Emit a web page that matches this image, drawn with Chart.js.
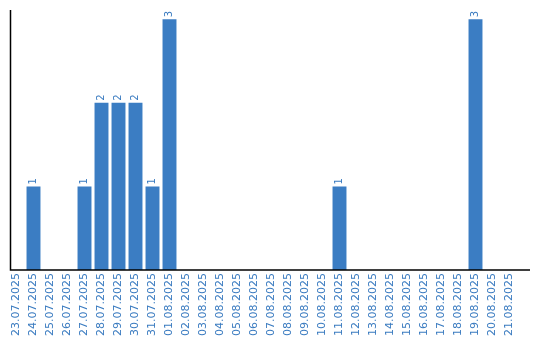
<!DOCTYPE html>
<html>
<head>
<meta charset="utf-8">
<script src="https://cdn.jsdelivr.net/npm/chart.js@4"></script>
<style>
  body { margin: 0; background: #fff; }
  #wrap { width: 540px; height: 340px; }
</style>
</head>
<body>
<div id="wrap"><canvas id="barChart" width="540" height="340"></canvas></div>
<script>
// dates on the x axis
const dates = [
  '23.07.2025', '24.07.2025', '25.07.2025', '26.07.2025', '27.07.2025',
  '28.07.2025', '29.07.2025', '30.07.2025', '31.07.2025', '01.08.2025',
  '02.08.2025', '03.08.2025', '04.08.2025', '05.08.2025', '06.08.2025',
  '07.08.2025', '08.08.2025', '09.08.2025', '10.08.2025', '11.08.2025',
  '12.08.2025', '13.08.2025', '14.08.2025', '15.08.2025', '16.08.2025',
  '17.08.2025', '18.08.2025', '19.08.2025', '20.08.2025', '21.08.2025'
];
// count per day
const counts = [
  0, 1, 0, 0, 1,
  2, 2, 2, 1, 3,
  0, 0, 0, 0, 0,
  0, 0, 0, 0, 1,
  0, 0, 0, 0, 0,
  0, 0, 3, 0, 0
];

const barColor = '#3b7dc3';
const textColor = '#3a7bc0';

// value over each bar, turned like the tick labels
const valueLabels = {
  id: 'valueLabels',
  afterDatasetsDraw(chart) {
    const ctx = chart.ctx;
    const meta = chart.getDatasetMeta(0);
    ctx.save();
    ctx.fillStyle = textColor;
    ctx.font = '10px "DejaVu Sans"';
    ctx.textAlign = 'left';
    ctx.textBaseline = 'middle';
    meta.data.forEach((bar, i) => {
      const v = counts[i];
      if (!v) return;
      ctx.save();
      ctx.translate(bar.x, bar.y - 2);
      ctx.rotate(-Math.PI / 2);
      ctx.fillText(String(v), 0, 0);
      ctx.restore();
    });
    ctx.restore();
  }
};

// plain black axis lines, the bottom one runs a bit past the bars
const axisLines = {
  id: 'axisLines',
  afterDraw(chart) {
    const a = chart.chartArea;
    const ctx = chart.ctx;
    ctx.save();
    ctx.strokeStyle = '#000';
    ctx.lineWidth = 1.5;
    ctx.beginPath();
    ctx.moveTo(a.left + 2.5, a.top);
    ctx.lineTo(a.left + 2.5, a.bottom);
    ctx.lineTo(a.right + 12, a.bottom);
    ctx.stroke();
    ctx.restore();
  }
};

new Chart(document.getElementById('barChart'), {
  type: 'bar',
  data: {
    labels: dates,
    datasets: [{
      data: counts,
      backgroundColor: barColor,
      barPercentage: 0.82,
      categoryPercentage: 1.0
    }]
  },
  options: {
    responsive: false,
    animation: false,
    layout: { padding: { left: 8, right: 22, top: 10, bottom: 0 } },
    plugins: {
      legend: { display: false },
      tooltip: { enabled: false }
    },
    scales: {
      x: {
        grid: { display: false, drawTicks: false },
        border: { display: false },
        ticks: {
          autoSkip: false,
          minRotation: 90,
          maxRotation: 90,
          padding: 3,
          color: textColor,
          font: { family: 'DejaVu Sans', size: 11 }
        },
        afterFit(scale) { scale.height = 70; }
      },
      y: {
        display: false,
        min: 0,
        max: 3.11
      }
    }
  },
  plugins: [valueLabels, axisLines]
});
</script>
</body>
</html>
